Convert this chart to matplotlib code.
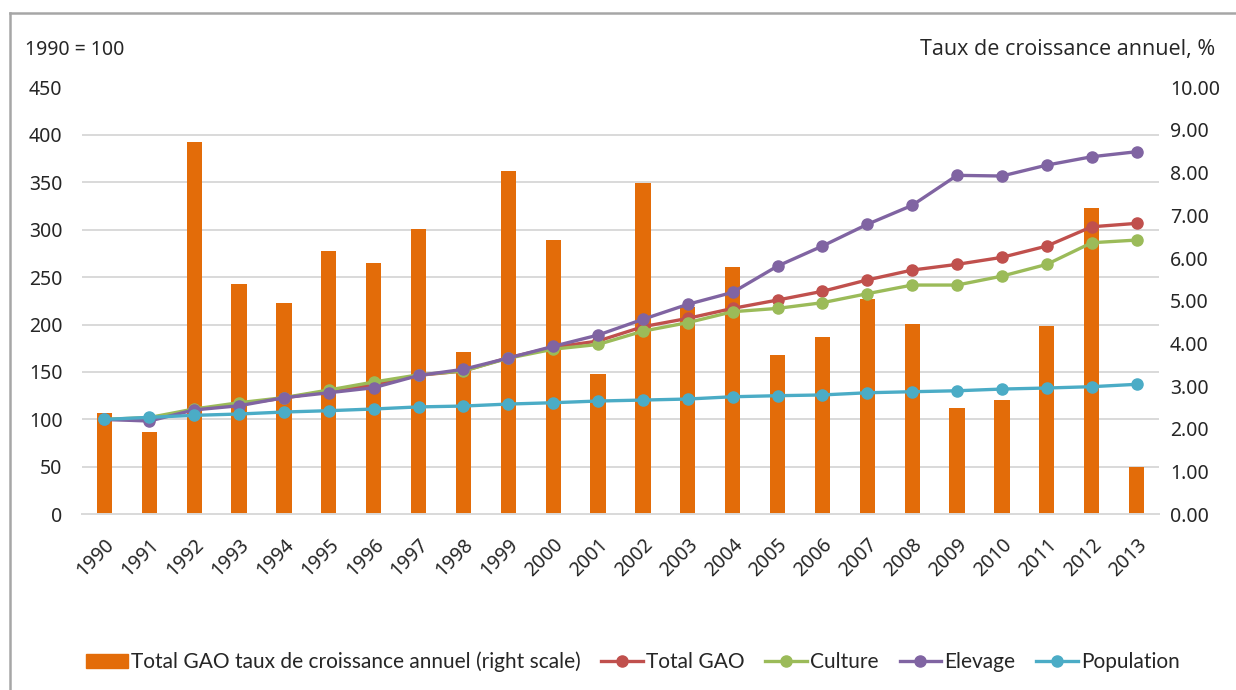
import matplotlib.pyplot as plt
import matplotlib.lines as mlines
import numpy as np

annees = [str(a) for a in range(1990, 2014)]

# taux de croissance annuel (echelle de droite, %)
taux_gao = [2.37, 1.93, 8.72, 5.39, 4.96, 6.17, 5.88, 6.68, 3.81, 8.03, 6.42, 3.29,
            7.75, 4.86, 5.78, 3.73, 4.16, 5.04, 4.45, 2.50, 2.67, 4.41, 7.17, 1.11]

# indices 1990 = 100 (echelle de gauche)
total_gao = [100, 100, 110.5, 116, 122.5, 130, 136, 146.5, 151, 165, 176, 182.6,
             197.7, 206.5, 217, 225.8, 235, 247, 257.4, 263.4, 270.8, 282.7, 303, 306.6]
culture = [100, 102, 111, 117.6, 123, 131, 139.4, 147, 151, 164.5, 174, 179,
           193, 202, 213.5, 217, 223, 232.5, 241.6, 241.6, 251, 263.4, 286.2, 289]
elevage = [100, 98.3, 110, 114.4, 122.9, 128.1, 133.4, 146.3, 152.8, 164.7, 177, 188.9,
           205.5, 221.3, 233.9, 261.6, 282.7, 305.6, 325.6, 357.2, 356.5, 368, 376.8, 382.1]
population = [100, 102.2, 104.3, 105.7, 107.8, 109.2, 111, 113.2, 114.1, 116.2, 117.6, 119.4,
              120.4, 121.5, 123.9, 125, 125.8, 128.1, 129.2, 130.2, 132, 133.1, 134.5, 137]

c_bar = '#E36C09'
c_red = '#C0504D'
c_green = '#9BBB59'
c_purple = '#8064A2'
c_blue = '#4BACC6'
c_txt = '#262626'

plt.rcParams['font.family'] = ['Lato', 'DejaVu Sans']
tick_font = ['Noto Sans', 'DejaVu Sans']

fig = plt.figure(figsize=(12.36, 6.9), dpi=100)
ax = fig.add_axes([0.0663, 0.2546, 0.8714, 0.6189])
axr = ax.twinx()
ax.set_zorder(axr.get_zorder() + 1)
ax.patch.set_visible(False)

x = np.arange(len(annees))

# barres sur l'axe de droite
axr.bar(x, taux_gao, width=0.34, color=c_bar, zorder=2)
axr.set_ylim(0, 10)
axr.set_yticks(np.arange(0, 11, 1))
axr.set_yticklabels(['%.2f' % v for v in np.arange(0, 11, 1)], family=tick_font)
# grille alignee sur l'echelle de gauche (1.00 = 45)
axr.set_yticks(np.arange(0, 451, 50) / 45.0, minor=True)
axr.grid(which='minor', color='#D9D9D9', linewidth=1.4, zorder=0)
axr.grid(which='major', visible=False)
axr.tick_params(axis='y', which='both', length=0, pad=8, labelsize=14, labelcolor=c_txt)

series = [(total_gao, c_red, 'Total GAO'),
          (culture, c_green, 'Culture'),
          (elevage, c_purple, 'Elevage'),
          (population, c_blue, 'Population')]
for vals, col, lab in series:
    ax.plot(x, vals, color=col, linewidth=2.4, marker='o', markersize=8, label=lab)

ax.set_ylim(0, 450)
ax.set_yticks(np.arange(0, 451, 50))
ax.set_yticklabels([str(v) for v in range(0, 451, 50)], family=tick_font)
ax.set_xlim(-0.5, len(annees) - 0.5)
ax.set_xticks(x)
ax.set_xticklabels(annees, rotation=45, ha='right', rotation_mode='anchor', family=tick_font)
ax.tick_params(axis='y', length=0, pad=14, labelsize=14, labelcolor=c_txt)
ax.tick_params(axis='x', length=0, pad=15, labelsize=14, labelcolor=c_txt)
axr.tick_params(axis='x', length=0)

for a in (ax, axr):
    for s in a.spines.values():
        s.set_visible(False)
axr.spines['bottom'].set_visible(True)
axr.spines['bottom'].set_color('#D9D9D9')
axr.spines['bottom'].set_linewidth(1.4)

fig.text(25 / 1236, 1 - 50 / 690, '1990 = 100', fontsize=14, color=c_txt, va='center',
         ha='left', family=tick_font)
fig.text(1215 / 1236, 1 - 50 / 690, 'Taux de croissance annuel, %', fontsize=15.5, color=c_txt,
         va='center', ha='right', family=['Open Sans', 'DejaVu Sans'])

# legende
h_bar = plt.Rectangle((0, 0), 1, 1, color=c_bar)
handles = [h_bar]
labels = ['Total GAO taux de croissance annuel (right scale)']
for vals, col, lab in series:
    handles.append(mlines.Line2D([], [], color=col, linewidth=2.4, marker='o', markersize=8))
    labels.append(lab)
fig.legend(handles, labels, loc='center', bbox_to_anchor=(0.512, 1 - 662 / 690), ncol=5,
           frameon=False, fontsize=15, handlelength=2.0, handletextpad=0.15, columnspacing=1.0,
           labelcolor=c_txt)

# cadre gris
fig.add_artist(mlines.Line2D([10 / 1236, 10 / 1236], [0, 1 - 13 / 690], color='#A6A6A6',
                             linewidth=1.8, transform=fig.transFigure))
fig.add_artist(mlines.Line2D([10 / 1236, 1], [1 - 13 / 690, 1 - 13 / 690], color='#A6A6A6',
                             linewidth=1.8, transform=fig.transFigure))

fig.savefig('out.png', dpi=100)
